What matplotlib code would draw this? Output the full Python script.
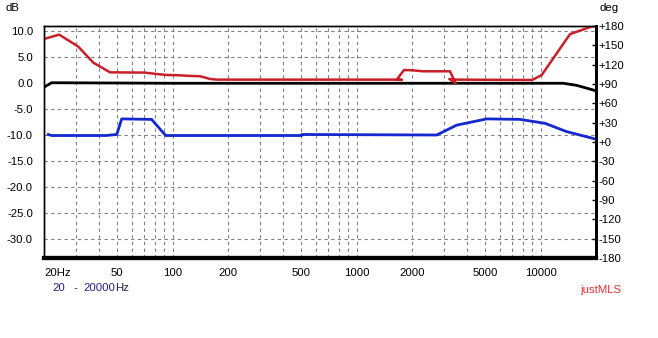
import matplotlib.pyplot as plt
from matplotlib.ticker import FixedLocator, NullFormatter, NullLocator

plt.rcParams['font.family'] = ['Liberation Sans', 'DejaVu Sans']
plt.rcParams['font.size'] = 8.2

# red trace (dB); it steps back in frequency twice
red_freq = [20, 24.2, 30.7, 37.1, 45.7, 70.8, 82, 92.9, 105, 127, 141, 160, 175,
            1652, 1758, 1652, 1810, 2000, 2300, 3217, 3450, 3190, 3500, 9000,
            10140, 14450, 18720, 20000]
red_db = [8.46, 9.3, 7.0, 3.9, 2.05, 2.0, 1.73, 1.54, 1.5, 1.35, 1.3, 0.77, 0.65,
          0.65, 0.6, 0.65, 2.5, 2.45, 2.25, 2.25, 0.0, 0.77, 0.65, 0.58,
          1.54, 9.4, 10.8, 11.0]

# black trace (dB)
black_freq = [20, 22.0, 100, 1000, 13280, 15700, 20000]
black_db = [-0.8, 0.05, -0.05, -0.05, -0.05, -0.45, -1.5]

# blue trace (dB)
blue_freq = [21.1, 22, 43.4, 49.7, 52.9, 76.9, 91.7, 503, 505, 2725, 3500,
             5094, 7725, 10560, 13850, 20000]
blue_db = [-9.9, -10.1, -10.1, -9.9, -6.9, -7.0, -10.1, -10.1, -9.9, -10.0, -8.1,
           -6.9, -7.0, -7.75, -9.35, -10.8]

db_ticks = [10, 5, 0, -5, -10, -15, -20, -25, -30]
deg_ticks = [180, 150, 120, 90, 60, 30, 0, -30, -60, -90, -120, -150, -180]
freq_ticks = [20, 50, 100, 200, 500, 1000, 2000, 5000, 10000]
freq_labels = ['20Hz', '50', '100', '200', '500', '1000', '2000', '5000', '10000']
grid_freqs = [30, 40, 50, 60, 70, 80, 90, 100, 200, 300, 400, 500, 600, 700, 800, 900,
              1000, 2000, 3000, 4000, 5000, 6000, 7000, 8000, 9000, 10000]

fig = plt.figure(figsize=(6.58, 3.38), dpi=100)
ax = fig.add_axes([44 / 658, 80 / 338, 552 / 658, 232 / 338])
ax.set_xscale('log')
ax.set_xlim(20, 20000)
ax.set_ylim(-33.65, 10.96)

# grid
for f in grid_freqs:
    ax.axvline(f, color='#808080', lw=0.8, ls=(0, (3, 3)), zorder=1)
for d in db_ticks:
    if d != 0:
        ax.axhline(d, color='#808080', lw=0.8, ls=(0, (3, 3)), zorder=1)

ax.plot(black_freq, black_db, color='black', lw=2, zorder=3)
ax.plot(blue_freq, blue_db, color='#1428d0', lw=2, zorder=3)
ax.plot(red_freq, red_db, color='#c82028', lw=1.8, zorder=4)

ax.xaxis.set_major_locator(FixedLocator(freq_ticks))
ax.set_xticklabels(freq_labels)
ax.xaxis.set_minor_locator(NullLocator())
ax.xaxis.set_minor_formatter(NullFormatter())
ax.tick_params(axis='x', length=0, pad=7)
ax.set_yticks(db_ticks)
ax.set_yticklabels(['%.1f' % d for d in db_ticks])
ax.tick_params(axis='y', length=0, pad=8)
lbl = ax.get_xticklabels()[0]
lbl.set_ha('left')
lbl.set_x(20)

ax2 = ax.twinx()
ax2.set_ylim(-180, 180)
ax2.set_yticks(deg_ticks)
ax2.set_yticklabels([('+%d' % d) if d >= 0 else str(d) for d in deg_ticks])
ax2.tick_params(axis='y', direction='in', length=3, width=1, pad=2)

for a in (ax, ax2):
    a.spines['top'].set_linewidth(1)
    a.spines['left'].set_linewidth(1)
    a.spines['bottom'].set_linewidth(3)
    a.spines['right'].set_linewidth(2)

fig.text(12 / 658, 1 - 8 / 338, 'dB', ha='center', va='center')
fig.text(609 / 658, 1 - 8 / 338, 'deg', ha='center', va='center')
fig.text(52 / 658, 1 - 288 / 338, '20', ha='left', va='center', color='#202080')
fig.text(73 / 658, 1 - 288 / 338, '-', ha='left', va='center', color='#202080')
fig.text(83 / 658, 1 - 288 / 338, '20000', ha='left', va='center', color='#202080')
fig.text(115.5 / 658, 1 - 288 / 338, 'Hz', ha='left', va='center', color='#202040')
fig.text(601 / 658, 1 - 290 / 338, 'justMLS', ha='center', va='center', color='#e03030')

fig.savefig('out.png', dpi=100)
